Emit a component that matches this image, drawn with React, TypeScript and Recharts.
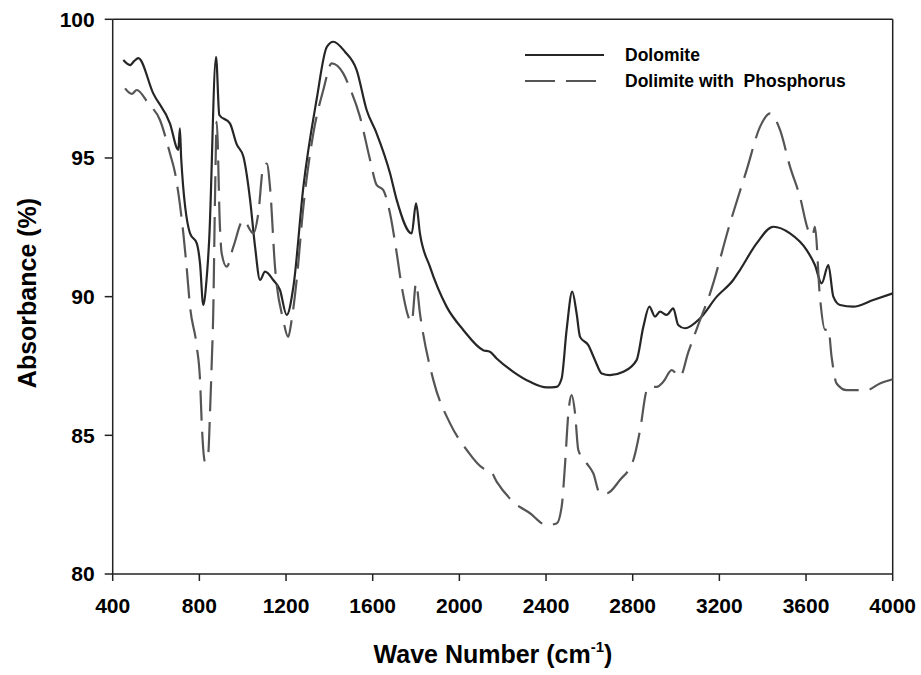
import { Label, Line, LineChart, ReferenceLine, XAxis, YAxis } from 'recharts';

// FTIR spectra
const dolomiteWave = [
  449, 480, 500, 518, 587, 664, 703, 710, 716, 757, 788, 803, 818, 833, 845, 877, 892, 941, 972, 1003,
  1034, 1057, 1080, 1103, 1141, 1172, 1203, 1234, 1280, 1341, 1388, 1418, 1472, 1526, 1572, 1618, 1680,
  1711, 1780, 1800, 1818, 1864, 1941, 2018, 2110, 2141, 2172, 2249, 2326, 2403, 2449, 2472, 2495, 2521,
  2541, 2557, 2595, 2626, 2657, 2695, 2757, 2818, 2849, 2877, 2903, 2926, 2957, 2987, 3010, 3041, 3111,
  3188, 3264, 3295, 3372, 3449, 3526, 3603, 3641, 3672, 3703, 3726, 3757, 3818, 3910, 4000,
];
const dolomiteAbs = [
  98.53, 98.35, 98.5, 98.6, 97.33, 96.25, 95.29, 96.07, 95.0, 92.28, 91.92, 91.2, 89.7, 90.6, 92.0, 98.65,
  96.55, 96.25, 95.5, 95.05, 93.5, 91.8, 90.6, 90.9, 90.6, 90.24, 89.34, 90.36, 93.96, 97.1, 99.0, 99.19,
  98.83, 98.17, 96.73, 95.89, 94.45, 93.48, 92.28, 93.36, 92.28, 91.08, 89.64, 88.8, 88.07, 88.01, 87.77,
  87.29, 86.93, 86.73, 86.75, 87.05, 88.8, 90.18, 89.4, 88.55, 88.25, 87.71, 87.23, 87.17, 87.29, 87.71,
  88.91, 89.64, 89.28, 89.46, 89.34, 89.58, 88.98, 88.86, 89.22, 90.0, 90.6, 90.96, 91.92, 92.52, 92.28,
  91.68, 91.14, 90.48, 91.14, 90.0, 89.7, 89.64, 89.88, 90.12,
];

const phosWave = [
  457, 488, 511, 564, 618, 664, 688, 703, 726, 741, 757, 788, 803, 811, 826, 841, 849, 857, 864, 872, 880,
  895, 903, 926, 957, 1003, 1049, 1072, 1095, 1111, 1126, 1149, 1187, 1210, 1226, 1249, 1280, 1326, 1372,
  1411, 1464, 1495, 1541, 1588, 1618, 1649, 1680, 1711, 1734, 1780, 1800, 1818, 1880, 1957, 2034, 2110,
  2141, 2172, 2249, 2326, 2403, 2449, 2472, 2488, 2503, 2518, 2534, 2549, 2588, 2618, 2649, 2680, 2741,
  2803, 2834, 2865, 2880, 2911, 2941, 2980, 3018, 3057, 3111, 3157, 3249, 3326, 3388, 3434, 3480, 3526,
  3572, 3610, 3630, 3641, 3664, 3688, 3703, 3718, 3741, 3788, 3880, 3941, 4000,
];
const phosAbs = [
  97.51, 97.31, 97.45, 96.97, 96.37, 95.17, 94.45, 93.73, 92.28, 91.08, 89.64, 88.2, 87.0, 85.43, 84.05,
  84.35, 85.79, 87.6, 89.4, 93.48, 96.3, 92.5, 91.56, 91.08, 91.8, 92.76, 92.28, 93.0, 94.68, 94.8, 93.96,
  91.08, 89.16, 88.55, 89.16, 90.6, 93.24, 95.89, 97.45, 98.41, 98.05, 97.51, 96.49, 94.93, 94.03, 93.84,
  93.0, 91.56, 90.36, 89.09, 90.48, 89.4, 86.99, 85.43, 84.47, 83.81, 83.75, 83.33, 82.6, 82.19, 81.76,
  81.82, 82.42, 83.99, 85.79, 86.45, 85.79, 84.47, 83.99, 83.63, 82.91, 82.91, 83.39, 84.11, 85.19, 86.63,
  86.75, 86.75, 86.93, 87.35, 87.11, 88.01, 89.16, 90.12, 92.64, 94.57, 96.13, 96.61, 96.01, 94.69, 93.6,
  92.4, 92.2, 92.52, 90.0, 88.8, 88.85, 87.83, 86.87, 86.63, 86.63, 86.87, 87.02,
];

const xTicks = [400, 800, 1200, 1600, 2000, 2400, 2800, 3200, 3600, 4000];
const yTicks = [80, 85, 90, 95, 100];

const dolomite = dolomiteWave.map((x, i) => ({ x, y: dolomiteAbs[i] }));
const phosphorus = phosWave.map((x, i) => ({ x, y: phosAbs[i] }));

const FONT = '"Liberation Sans", Arial, sans-serif';
const SOLID = '#262626';
const DASH = '#555555';

function LegendBox() {
  return (
    <svg width={360} height={60} style={{ position: 'absolute', left: 518, top: 38 }}>
      <line x1={7} x2={86} y1={17} y2={17} stroke={SOLID} strokeWidth={2.2} />
      <text x={107} y={17} dominantBaseline="central" fontFamily={FONT} fontWeight="bold" fontSize={17.5} fill="#000">
        Dolomite
      </text>
      <line x1={7} x2={78} y1={43} y2={43} stroke={DASH} strokeWidth={2.2} strokeDasharray="30 11" />
      <text x={107} y={43} dominantBaseline="central" fontFamily={FONT} fontWeight="bold" fontSize={17.5} fill="#000">
        {'Dolimite with\u00a0 Phosphorus'}
      </text>
    </svg>
  );
}

export default function App() {
  const tickStyle = { fontFamily: FONT, fontWeight: 'bold', fontSize: 21, fill: '#000' };
  return (
    <div style={{ position: 'relative', width: 921, height: 675 }}>
      <style>{'body { margin: 0; overflow: hidden; }'}</style>
      <LineChart width={921} height={675} margin={{ top: 19.3, right: 28.3, left: 8, bottom: 0 }}>
        <XAxis
          dataKey="x"
          type="number"
          domain={[400, 4000]}
          ticks={xTicks}
          allowDataOverflow
          height={101}
          tickSize={7}
          tickMargin={17}
          tick={tickStyle}
          stroke="#222"
          strokeWidth={1.5}
        >
          <Label
            content={() => (
              <text x={493} y={663} textAnchor="middle" fontFamily={FONT} fontWeight="bold" fontSize={25} fill="#000">
                Wave Number (cm
                <tspan fontSize={15} dy={-11}>-1</tspan>
                <tspan dy={11}>)</tspan>
              </text>
            )}
          />
        </XAxis>
        <YAxis
          type="number"
          domain={[80, 100]}
          ticks={yTicks}
          allowDataOverflow
          width={104.7}
          tickSize={8}
          tickMargin={10}
          tick={tickStyle}
          stroke="#222"
          strokeWidth={1.5}
        >
          <Label
            content={() => (
              <text
                x={27}
                y={293}
                transform="rotate(-90 27 293)"
                textAnchor="middle"
                dominantBaseline="central"
                fontFamily={FONT}
                fontWeight="bold"
                fontSize={25}
                fill="#000"
              >
                Absorbance (%)
              </text>
            )}
          />
        </YAxis>
        <ReferenceLine y={100} stroke="#222" strokeWidth={1.5} />
        <ReferenceLine x={4000} stroke="#222" strokeWidth={1.5} />
        <Line
          data={dolomite}
          dataKey="y"
          name="Dolomite"
          type="monotone"
          stroke={SOLID}
          strokeWidth={2.2}
          dot={false}
          activeDot={false}
          isAnimationActive={false}
        />
        <Line
          data={phosphorus}
          dataKey="y"
          name="Dolimite with  Phosphorus"
          type="monotone"
          stroke={DASH}
          strokeWidth={2.2}
          strokeDasharray="30 11"
          dot={false}
          activeDot={false}
          isAnimationActive={false}
        />
      </LineChart>
      <LegendBox />
    </div>
  );
}
